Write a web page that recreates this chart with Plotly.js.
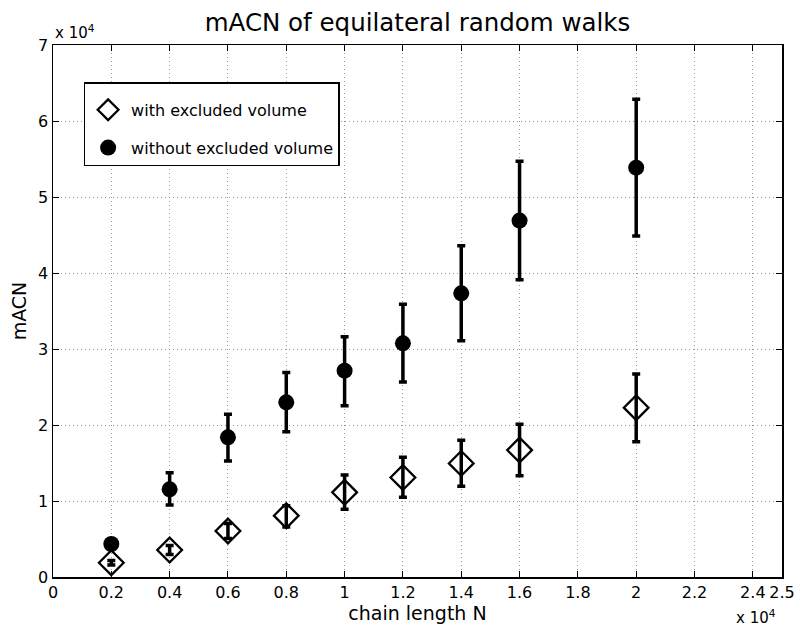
<!DOCTYPE html>
<html>
<head>
<meta charset="utf-8">
<script src="https://cdn.plot.ly/plotly-3.0.1.min.js"></script>
<style>html,body{margin:0;padding:0;background:#fff;}#chart{width:795px;height:633px;}</style>
</head>
<body>
<div id="chart"></div>
<script>
// chain length N
const chainLength = [2000, 4000, 6000, 8000, 10000, 12000, 14000, 16000, 20000];

// with excluded volume (open diamonds)
const withEV      = [1880, 3550, 6050, 8070, 11140, 13100, 14950, 16700, 22280];
const withEVUp    = [300, 600, 1000, 1300, 2280, 2650, 3050, 3400, 4420];
const withEVDown  = [300, 600, 1000, 1500, 2240, 2600, 3020, 3370, 4480];

// without excluded volume (filled circles)
const withoutEV     = [4340, 11540, 18380, 22980, 27150, 30750, 37320, 46900, 53860];
const withoutEVUp   = [500, 2180, 3020, 3920, 4450, 5150, 6280, 7800, 8990];
const withoutEVDown = [500, 2070, 3120, 3880, 4610, 5090, 6220, 7800, 8990];

const xTickVals = [0, 2000, 4000, 6000, 8000, 10000, 12000, 14000, 16000, 18000, 20000, 22000, 24000, 25000];
const xTickText = ['0', '0.2', '0.4', '0.6', '0.8', '1', '1.2', '1.4', '1.6', '1.8', '2', '2.2', '2.4', '2.5'];
const yTickVals = [0, 10000, 20000, 30000, 40000, 50000, 60000, 70000];
const yTickText = ['0', '1', '2', '3', '4', '5', '6', '7'];

const FONT = 'DejaVu Sans, Liberation Sans, Arial, sans-serif';

const traces = [
  {
    x: chainLength, y: withEV, type: 'scatter', mode: 'markers',
    name: 'with excluded volume', legendgroup: 'a',
    marker: {symbol: 'diamond-open', size: 19, color: '#000', line: {color: '#000', width: 2.3}},
    error_y: {type: 'data', symmetric: false, array: withEVUp, arrayminus: withEVDown,
              color: '#000', thickness: 3.5, width: 4}
  },
  {
    x: chainLength, y: withoutEV, type: 'scatter', mode: 'markers',
    name: 'without excluded volume', legendgroup: 'b',
    marker: {symbol: 'circle', size: 16, color: '#000'},
    error_y: {type: 'data', symmetric: false, array: withoutEVUp, arrayminus: withoutEVDown,
              color: '#000', thickness: 3.5, width: 4}
  }
];

const axisCommon = {
  showline: true, linecolor: '#000', linewidth: 1.5, mirror: 'ticks',
  ticks: 'inside', ticklen: 6, tickwidth: 1, tickcolor: '#000',
  showgrid: true, gridcolor: '#999999', griddash: '1px,3px', gridwidth: 1,
  zeroline: false, tickfont: {family: FONT, size: 16, color: '#000'},
  tickmode: 'array'
};

const layout = {
  width: 795, height: 633,
  paper_bgcolor: '#fff', plot_bgcolor: '#fff',
  margin: {l: 53, r: 13, t: 45, b: 56},
  font: {family: FONT, color: '#000'},
  title: {text: 'mACN of equilateral random walks', font: {family: FONT, size: 24.5, color: '#000'},
          x: 0.5, xref: 'paper', y: 0.965, yref: 'container', yanchor: 'middle'},
  xaxis: Object.assign({}, axisCommon, {
    range: [0, 25000], tickvals: xTickVals, ticktext: xTickText,
    title: {text: 'chain length N', font: {family: FONT, size: 19, color: '#000'}, standoff: 2}
  }),
  yaxis: Object.assign({}, axisCommon, {
    range: [0, 70000], tickvals: yTickVals, ticktext: yTickText,
    title: {text: 'mACN', font: {family: FONT, size: 19, color: '#000'}, standoff: 6}
  }),
  showlegend: true,
  legend: {
    x: 0.042, y: 0.93, xanchor: 'left', yanchor: 'top',
    bgcolor: '#fff', bordercolor: '#000', borderwidth: 1.5,
    font: {family: FONT, size: 16, color: '#000'},
    title: {text: '&nbsp;', font: {family: FONT, size: 7, color: '#000'}},
    tracegroupgap: 14, itemsizing: 'trace', itemwidth: 36,
    entrywidth: 262, entrywidthmode: 'pixels'
  },
  annotations: [
    {text: 'x 10<sup>4</sup>', xref: 'paper', yref: 'paper', x: 0, y: 1, xanchor: 'left', yanchor: 'bottom',
     xshift: 0, yshift: 1, showarrow: false, font: {family: FONT, size: 15, color: '#000'}},
    {text: 'x 10<sup>4</sup>', xref: 'paper', yref: 'paper', x: 1, y: 0, xanchor: 'right', yanchor: 'top',
     xshift: -4, yshift: -28, showarrow: false, font: {family: FONT, size: 15, color: '#000'}}
  ]
};

Plotly.newPlot('chart', traces, layout, {displayModeBar: false, staticPlot: true});
</script>
</body>
</html>
